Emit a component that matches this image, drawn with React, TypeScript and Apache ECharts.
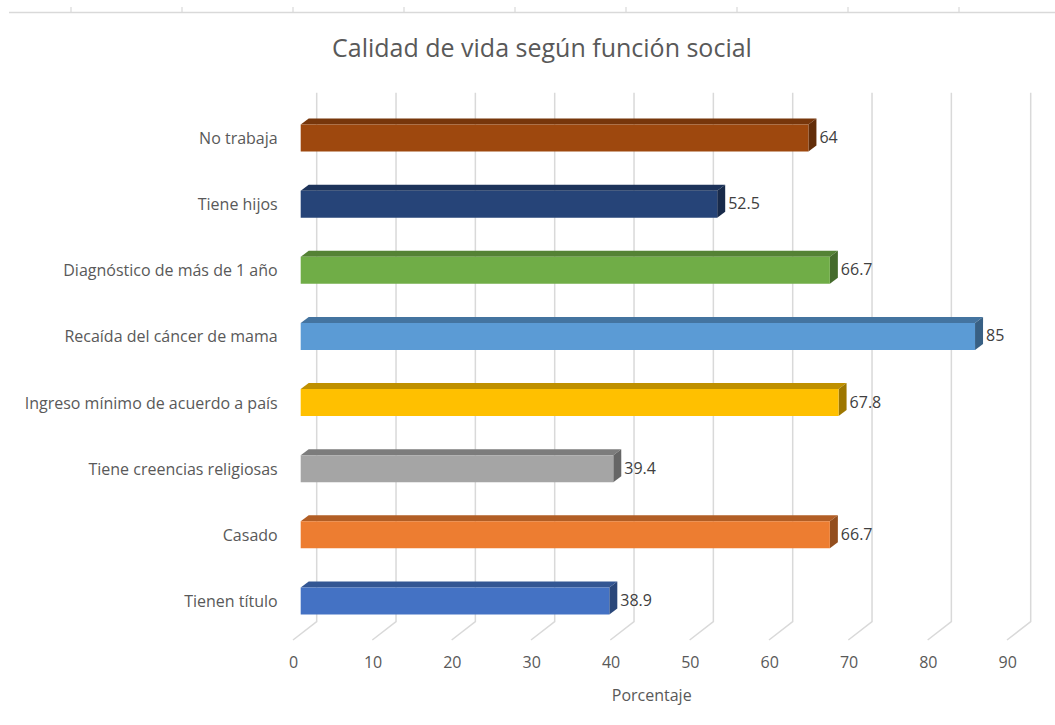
import React, { useEffect, useRef } from "react";
import * as echarts from "echarts";

// Categories listed bottom to top, as the y axis draws them
const categories = [
  "Tienen título",
  "Casado",
  "Tiene creencias religiosas",
  "Ingreso mínimo de acuerdo a país",
  "Recaída del cáncer de mama",
  "Diagnóstico de más de 1 año",
  "Tiene hijos",
  "No trabaja",
];
const values = [38.9, 66.7, 39.4, 67.8, 85, 66.7, 52.5, 64];
const barColors = [
  "#4472C4",
  "#ED7D31",
  "#A5A5A5",
  "#FFC000",
  "#5B9BD5",
  "#70AD47",
  "#264478",
  "#9E480E",
];
const xTicks = [0, 10, 20, 30, 40, 50, 60, 70, 80, 90];

const FONT = "'Open Sans', 'Noto Sans', sans-serif";
const TEXT = "#595959";
const GRID = "#d9d9d9";
// depth of the extruded bars and of the floor, in pixels
const DEPTH_X = 8;
const DEPTH_Y = 6;
const BAR_H = 27;

function shade(hex: string, k: number): string {
  const n = parseInt(hex.slice(1), 16);
  const r = Math.round(((n >> 16) & 255) * k);
  const g = Math.round(((n >> 8) & 255) * k);
  const b = Math.round((n & 255) * k);
  return `rgb(${r},${g},${b})`;
}

export default function App() {
  const ref = useRef<HTMLDivElement>(null);

  useEffect(() => {
    document.body.style.margin = "0";
    const chart = echarts.init(ref.current!, null, { renderer: "svg" });

    const barData = values.map((v, i) => [v, i]);
    const gridData = xTicks.map((t) => [t, 0]);

    chart.setOption({
      animation: false,
      backgroundColor: "#ffffff",
      title: {
        text: "Calidad de vida según función social",
        left: 327,
        top: 29,
        textStyle: { fontFamily: FONT, fontSize: 25, fontWeight: "normal", color: TEXT },
      },
      grid: { left: 300.7, right: 40.3, top: 105, bottom: 91, containLabel: false },
      xAxis: {
        type: "value",
        min: 0,
        max: 90,
        interval: 10,
        name: "Porcentaje",
        nameLocation: "middle",
        nameGap: 53,
        nameTextStyle: { fontFamily: FONT, fontSize: 16, color: TEXT, padding: [0, 12, 0, 0] },
        axisLine: { show: false },
        axisTick: { show: false },
        splitLine: { show: false },
        axisLabel: {
          fontFamily: FONT,
          fontSize: 16,
          color: TEXT,
          margin: 20,
          padding: [0, 14, 0, 0],
        },
      },
      yAxis: {
        type: "category",
        data: categories,
        axisLine: { show: false },
        axisTick: { show: false },
        splitLine: { show: false },
        axisLabel: { fontFamily: FONT, fontSize: 16, color: TEXT, margin: 23 },
      },
      graphic: [
        {
          type: "line",
          shape: { x1: 9, y1: 12.5, x2: 1055, y2: 12.5 },
          style: { stroke: GRID, lineWidth: 1.5 },
        },
        ...[71, 182, 293, 404, 515, 626, 737, 848, 959].map((x) => ({
          type: "line",
          shape: { x1: x, y1: 7, x2: x, y2: 12.5 },
          style: { stroke: GRID, lineWidth: 1.2 },
        })),
      ],
      series: [
        {
          // back wall and floor gridlines
          type: "custom",
          data: gridData,
          encode: { x: 0, y: 1 },
          z: 1,
          silent: true,
          renderItem: (params: any, api: any) => {
            const cs = params.coordSys;
            const x = api.coord([api.value(0), 0])[0];
            const bottom = cs.y + cs.height;
            return {
              type: "polyline",
              shape: {
                points: [
                  [x - 7.7, bottom + 6],
                  [x + 16, bottom - 12.4],
                  [x + 16, cs.y - 12.3],
                ],
              },
              style: { stroke: GRID, lineWidth: 1.5, fill: "none" },
            };
          },
        },
        {
          // extruded bars with value labels
          type: "custom",
          data: barData,
          encode: { x: 0, y: 1 },
          z: 2,
          renderItem: (params: any, api: any) => {
            const v = api.value(0);
            const idx = api.value(1);
            const p0 = api.coord([0, idx]);
            const p1 = api.coord([v, idx]);
            const x0 = p0[0];
            const x1 = p1[0];
            const yTop = p0[1] - BAR_H / 2;
            const yBot = p0[1] + BAR_H / 2;
            const c = barColors[idx];
            return {
              type: "group",
              children: [
                {
                  type: "polygon",
                  shape: {
                    points: [
                      [x0, yTop],
                      [x0 + DEPTH_X, yTop - DEPTH_Y],
                      [x1 + DEPTH_X, yTop - DEPTH_Y],
                      [x1, yTop],
                    ],
                  },
                  style: { fill: shade(c, 0.75) },
                },
                {
                  type: "polygon",
                  shape: {
                    points: [
                      [x1, yTop],
                      [x1 + DEPTH_X, yTop - DEPTH_Y],
                      [x1 + DEPTH_X, yBot - DEPTH_Y],
                      [x1, yBot],
                    ],
                  },
                  style: { fill: shade(c, 0.62) },
                },
                {
                  type: "rect",
                  shape: { x: x0, y: yTop, width: x1 - x0, height: BAR_H },
                  style: { fill: c },
                },
                {
                  type: "text",
                  x: x1 + DEPTH_X + 3,
                  y: p0[1] - 1,
                  style: {
                    text: String(v),
                    fontFamily: FONT,
                    fontSize: 16,
                    fill: "#404040",
                    verticalAlign: "middle",
                    align: "left",
                  },
                },
              ],
            };
          },
        },
      ],
    });

    return () => chart.dispose();
  }, []);

  return <div ref={ref} style={{ width: 1055, height: 725 }} />;
}
